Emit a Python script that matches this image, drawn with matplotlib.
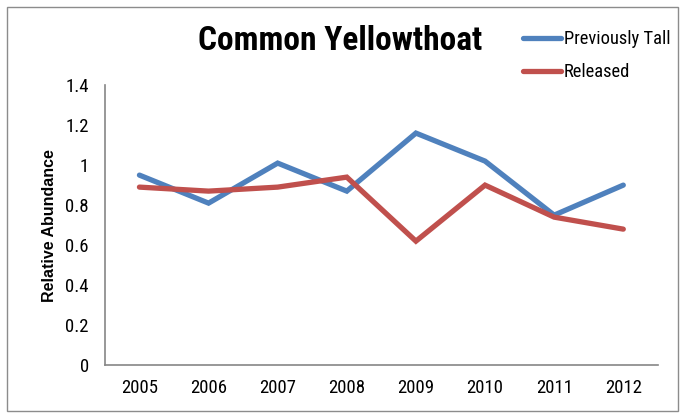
import matplotlib
matplotlib.use("Agg")
import matplotlib.pyplot as plt
from matplotlib.patches import Rectangle
from matplotlib import font_manager

years = ["2005", "2006", "2007", "2008", "2009", "2010", "2011", "2012"]
previously_tall = [0.95, 0.81, 1.01, 0.87, 1.16, 1.02, 0.75, 0.90]
released = [0.89, 0.87, 0.89, 0.94, 0.62, 0.90, 0.74, 0.68]
y_ticks = [0, 0.2, 0.4, 0.6, 0.8, 1.0, 1.2, 1.4]
y_tick_labels = ["0", "0.2", "0.4", "0.6", "0.8", "1", "1.2", "1.4"]

# pick a narrow face for the labels if one is installed
fonts = font_manager.fontManager.ttflist
names = {f.name for f in fonts}
narrow = None
for cand in ["Liberation Sans Narrow", "DejaVu Sans Condensed", "Roboto Condensed",
             "Open Sans Condensed", "Noto Sans Condensed", "Arial Narrow"]:
    if cand in names:
        narrow = cand
        break
if narrow is None:
    for f in fonts:
        if str(f.stretch) in ("condensed", "semi-condensed", "extra-condensed") or \
                (isinstance(f.stretch, int) and f.stretch < 500):
            narrow = f.name
            break
if narrow is None:
    narrow = "DejaVu Sans"

fig = plt.figure(figsize=(6.81, 4.15), dpi=100)
fig.patches.append(Rectangle((0.010, 0.010), 0.985, 0.972, transform=fig.transFigure,
                             fill=False, edgecolor="#8c8c8c", linewidth=1.0))

ax = fig.add_axes([0.154, 0.120, 0.812, 0.675])
x = list(range(len(years)))
ax.plot(x, previously_tall, color="#4F81BD", linewidth=3.8, solid_capstyle="round",
        solid_joinstyle="miter", label="Previously Tall")
ax.plot(x, released, color="#C0504D", linewidth=3.8, solid_capstyle="round",
        solid_joinstyle="miter", label="Released")

ax.set_xlim(-0.5, len(years) - 0.5)
ax.set_ylim(0, 1.4)
ax.set_xticks(x)
ax.set_xticklabels(years, fontfamily=narrow, fontstretch="condensed", fontsize=13.5)
ax.set_yticks(y_ticks)
ax.set_yticklabels(y_tick_labels, fontfamily=narrow, fontstretch="condensed", fontsize=13.5)
ax.tick_params(axis="x", length=0, pad=10)
ax.tick_params(axis="y", length=0, pad=11.5)
for s in ["top", "right"]:
    ax.spines[s].set_visible(False)
for s in ["left", "bottom"]:
    ax.spines[s].set_color("#868686")
    ax.spines[s].set_linewidth(1.2)

ax.set_ylabel("Relative Abundance", fontsize=11.5, fontweight="bold",
              family="Liberation Sans", labelpad=6)

fig.text(0.500, 0.902, "Common Yellowthoat", fontfamily=narrow, fontstretch="condensed",
         fontweight="heavy", fontsize=24, ha="center", va="center")

fig.legend(loc="upper left", bbox_to_anchor=(0.757, 0.945), frameon=False,
           prop={"family": narrow, "stretch": "condensed", "size": 13.3},
           handlelength=2.05, handletextpad=0.15, labelspacing=0.8, borderaxespad=0)

fig.savefig("out.png", dpi=100)
